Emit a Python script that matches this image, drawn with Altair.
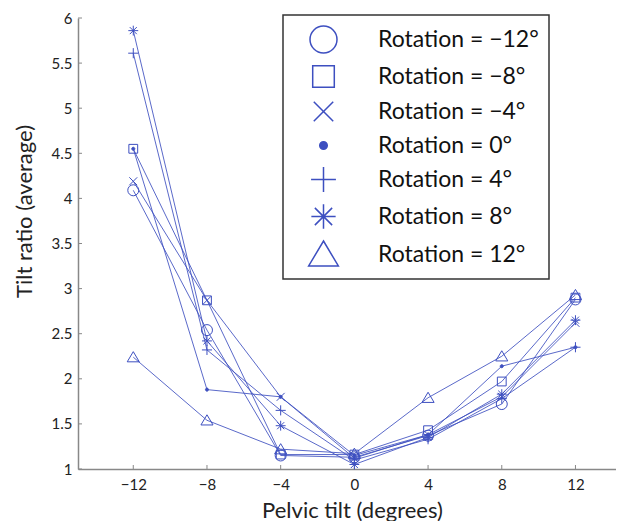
import altair as alt
import pandas as pd

# ---- data ----
pelvic_tilt = [-12, -8, -4, 0, 4, 8, 12]
labels = ["Rotation = −12°", "Rotation = −8°", "Rotation = −4°", "Rotation = 0°",
          "Rotation = 4°", "Rotation = 8°", "Rotation = 12°"]
rot_m12 = [4.09, 2.54, 1.15, 1.13, 1.37, 1.72, 2.88]
rot_m8 = [4.55, 2.87, 1.16, 1.16, 1.43, 1.97, 2.90]
rot_m4 = [4.19, 2.87, 1.80, 1.12, 1.38, 1.80, 2.62]
rot_0 = [4.55, 1.88, 1.80, 1.15, 1.38, 2.14, 2.35]
rot_4 = [5.61, 2.32, 1.65, 1.10, 1.33, 1.78, 2.35]
rot_8 = [5.86, 2.42, 1.48, 1.05, 1.35, 1.83, 2.65]
rot_12 = [2.24, 1.54, 1.22, 1.17, 1.79, 2.25, 2.93]
x_ticks = [-12, -8, -4, 0, 4, 8, 12]
y_ticks = [1, 1.5, 2, 2.5, 3, 3.5, 4, 4.5, 5, 5.5, 6]

series = [rot_m12, rot_m8, rot_m4, rot_0, rot_4, rot_8, rot_12]
rows = []
for lab, vals in zip(labels, series):
    for xv, yv in zip(pelvic_tilt, vals):
        rows.append({"tilt": xv, "ratio": yv, "rot": lab})
df = pd.DataFrame(rows)
xt = pd.DataFrame({"t": x_ticks})
yt = pd.DataFrame({"t": y_ticks})

BLUE = "#3d4fc0"
FONT = "Lato"
W, H = 538, 451

shapes = [
    "circle",
    "M-0.8,-0.8H0.8V0.8H-0.8Z",
    "M-0.72,-0.72L0.72,0.72M-0.72,0.72L0.72,-0.72",
    "M-0.28,0A0.28,0.28 0 1,0 0.28,0A0.28,0.28 0 1,0 -0.28,0Z",
    "M-0.92,0L0.92,0M0,-0.92L0,0.92",
    "M-0.9,0L0.9,0M0,-0.9L0,0.9M-0.64,-0.64L0.64,0.64M-0.64,0.64L0.64,-0.64",
    "M0,-1L1.1,0.85L-1.1,0.85Z",
]
fills = ["transparent"] * 3 + [BLUE] + ["transparent"] * 3
strokes = [BLUE] * 7

xscale = alt.Scale(domain=[-15, 14.2], nice=False, zero=False)
yscale = alt.Scale(domain=[1, 6], nice=False, zero=False)

xaxis = alt.Axis(
    values=x_ticks, ticks=False, grid=False, labelPadding=8,
    labelExpr="datum.value < 0 ? '−' + abs(datum.value) : '' + datum.value",
    title="Pelvic tilt (degrees)", titleX=274, titleY=48, titleFontSize=22,
    titleBaseline="alphabetic", titleAlign="center",
)
yaxis = alt.Axis(
    values=y_ticks, ticks=False, grid=False, labelPadding=6, format="~g",
    title="Tilt ratio (average)", titleX=-54, titleY=193, titleFontSize=22,
    titleBaseline="middle", titleAlign="center", titleAngle=270,
)

lines = alt.Chart(df).mark_line(color=BLUE, strokeWidth=1, opacity=0.85).encode(
    x=alt.X("tilt:Q", scale=xscale, axis=xaxis),
    y=alt.Y("ratio:Q", scale=yscale, axis=yaxis),
    detail="rot:N",
)

legend = alt.Legend(title=None, symbolStrokeWidth=1.5, symbolOpacity=1)
points = alt.Chart(df).mark_point(
    filled=False, size=121, strokeWidth=1, opacity=1
).encode(
    x=alt.X("tilt:Q", scale=xscale),
    y=alt.Y("ratio:Q", scale=yscale),
    shape=alt.Shape("rot:N", scale=alt.Scale(domain=labels, range=shapes), legend=legend),
    fill=alt.Fill("rot:N", scale=alt.Scale(domain=labels, range=fills), legend=legend),
    stroke=alt.Stroke("rot:N", scale=alt.Scale(domain=labels, range=strokes), legend=legend),
)

xticks = alt.Chart(xt).mark_rule(color="#888", strokeWidth=1).encode(
    x=alt.X("t:Q", scale=xscale), y=alt.value(H - 4), y2=alt.value(H)
)
yticks = alt.Chart(yt).mark_rule(color="#888", strokeWidth=1).encode(
    y=alt.Y("t:Q", scale=yscale), x=alt.value(0), x2=alt.value(4)
)

chart = (
    alt.layer(lines, xticks, yticks, points)
    .properties(
        width=W, height=H,
        autosize=alt.AutoSizeParams(type="none"),
        padding={"left": 70, "top": 10, "right": 0, "bottom": 52},
    )
    .configure_view(strokeWidth=0)
    .configure_axis(
        labelFont=FONT, labelFontSize=15, labelColor="#222",
        titleFont=FONT, titleFontWeight="normal", titleColor="#222",
        domainColor="#888", domainWidth=1.5,
    )
    .configure_legend(
        orient="none", legendX=205, legendY=-3,
        padding=10, rowPadding=6, strokeColor="#333", strokeWidth=1.5, fillColor="white",
        symbolOffset=16, labelOffset=40,
        labelFont=FONT, labelFontSize=23, labelColor="#111", labelLimit=400,
        symbolSize=729,
    )
)

chart.save("out.html", embed_options={"renderer": "svg", "actions": False})
